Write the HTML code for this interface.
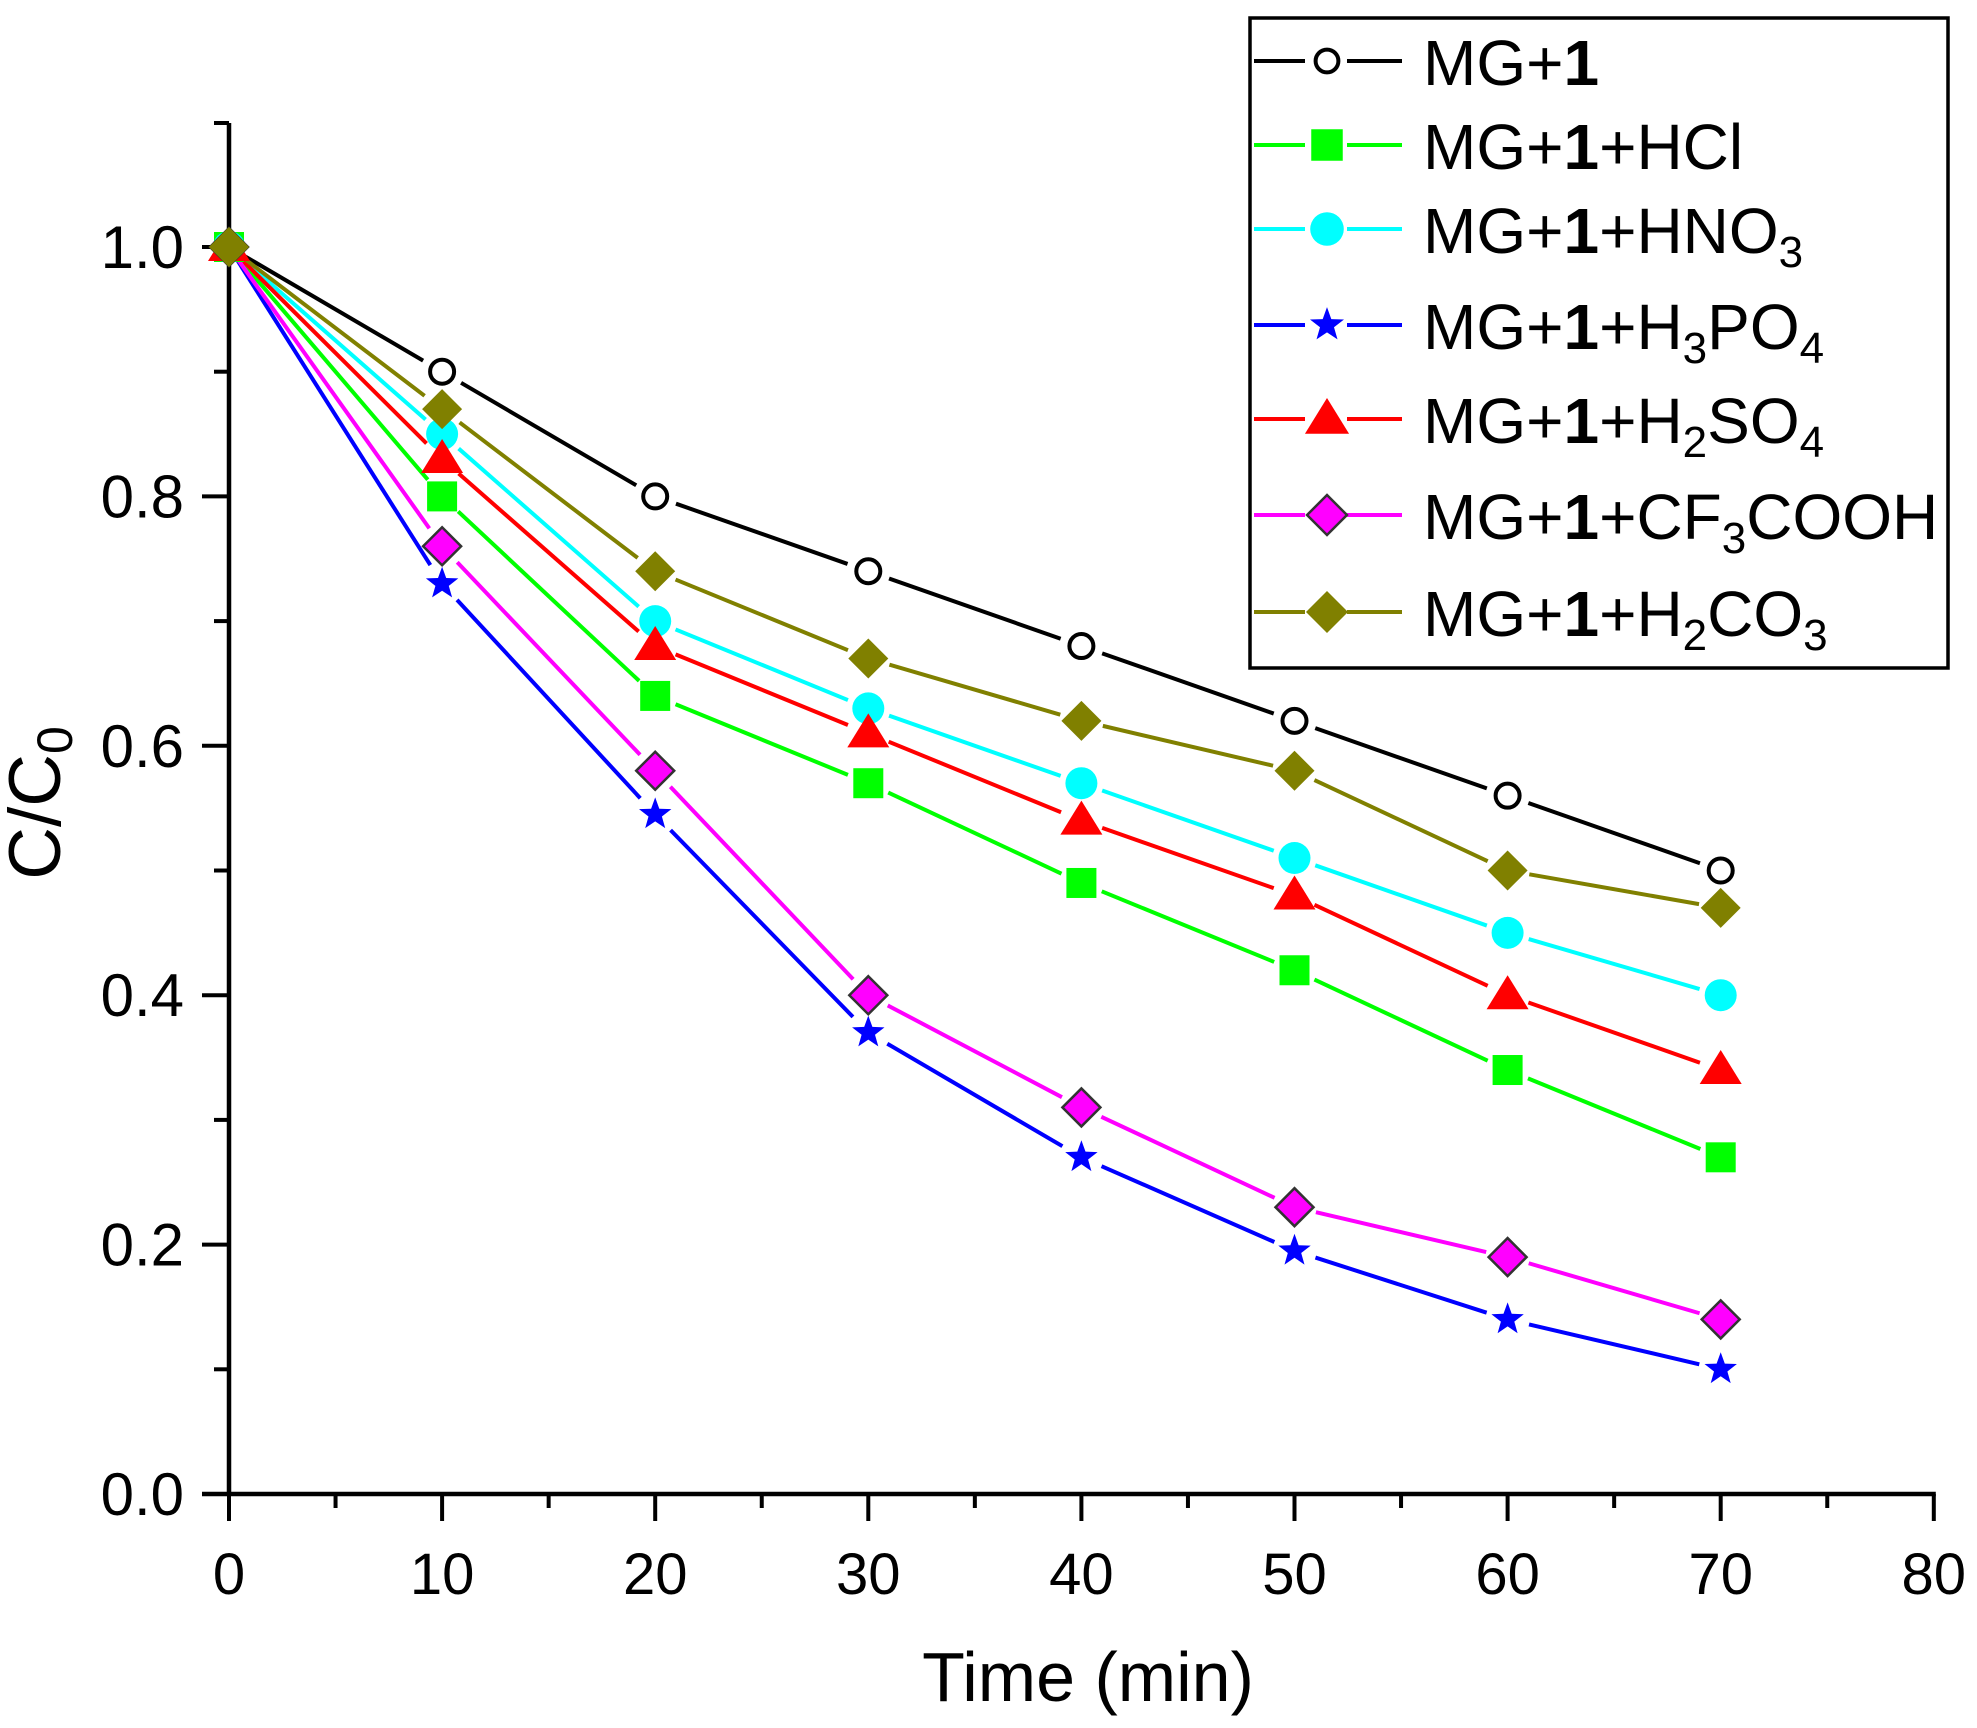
<!DOCTYPE html>
<html><head><meta charset="utf-8"><style>
html,body{margin:0;padding:0;background:#fff;}
svg{display:block;font-family:"Liberation Sans",sans-serif;}
</style></head><body>
<svg id="s" width="1977" height="1728" xmlns="http://www.w3.org/2000/svg">
<rect width="1977" height="1728" fill="#fff"/>
<g id="plot"></g>
<rect x="1250" y="18" width="698" height="650" fill="#fff" stroke="#000" stroke-width="3.5"/>
<g id="leg"></g>
<g font-size="64" fill="#000">
<text x="1423" y="85">MG+<tspan font-weight="bold">1</tspan></text>
<text x="1423" y="169">MG+<tspan font-weight="bold">1</tspan>+HCl</text>
<text x="1423" y="253">MG+<tspan font-weight="bold">1</tspan>+HNO<tspan font-size="44" dy="14">3</tspan></text>
<text x="1423" y="349">MG+<tspan font-weight="bold">1</tspan>+H<tspan font-size="44" dy="14">3</tspan><tspan dy="-14">PO</tspan><tspan font-size="44" dy="14">4</tspan></text>
<text x="1423" y="443">MG+<tspan font-weight="bold">1</tspan>+H<tspan font-size="44" dy="14">2</tspan><tspan dy="-14">SO</tspan><tspan font-size="44" dy="14">4</tspan></text>
<text x="1423" y="539">MG+<tspan font-weight="bold">1</tspan>+CF<tspan font-size="44" dy="14">3</tspan><tspan dy="-14">COOH</tspan></text>
<text x="1423" y="636">MG+<tspan font-weight="bold">1</tspan>+H<tspan font-size="44" dy="14">2</tspan><tspan dy="-14">CO</tspan><tspan font-size="44" dy="14">3</tspan></text>
</g>
<text x="1088" y="1701" font-size="70" text-anchor="middle">Time (min)</text>
<text transform="translate(60,803) rotate(-90)" font-size="73" text-anchor="middle">C/C<tspan font-size="50" dy="12">0</tspan></text>
</svg>
<script>
var NS="http://www.w3.org/2000/svg";
var plot=document.getElementById("plot"),leg=document.getElementById("leg");
function X(t){return 229+t*21.31;}
function Y(v){return 1494-v*1247;}
function el(p,n,a){var e=document.createElementNS(NS,n);for(var k in a)e.setAttribute(k,a[k]);p.appendChild(e);return e;}
function txt(p,x,y,s,anchor,size){var e=el(p,"text",{x:x,y:y,"font-size":size,"text-anchor":anchor});e.textContent=s;}
el(plot,"line",{x1:229,y1:123,x2:229,y2:1496,stroke:"#000","stroke-width":4.5});
el(plot,"line",{x1:202,y1:1494,x2:X(80)+2,y2:1494,stroke:"#000","stroke-width":4.5});
el(plot,"line",{x1:214,y1:123,x2:229,y2:123,stroke:"#000","stroke-width":4});
for(var i=0;i<=10;i++){var v=i/10,y=Y(v);var maj=i%2==0;
 el(plot,"line",{x1:maj?202:214,y1:y,x2:229,y2:y,stroke:"#000","stroke-width":4});
 if(maj)txt(plot,184,y+21,v.toFixed(1),"end",60);}
for(var t=0;t<=80;t+=5){var x=X(t),maj=t%10==0;
 el(plot,"line",{x1:x,y1:1494,x2:x,y2:maj?1521:1508,stroke:"#000","stroke-width":4});
 if(maj)txt(plot,x,1594,""+t,"middle",58);}
var T=[0,10,20,30,40,50,60,70];
var S=[
 {c:"#000",m:"oc",d:[1,.9,.8,.74,.68,.62,.56,.50]},
 {c:"#00ff00",m:"sq",d:[1,.80,.64,.57,.49,.42,.34,.27]},
 {c:"#00ffff",m:"ci",d:[1,.85,.70,.63,.57,.51,.45,.40]},
 {c:"#0000ff",m:"st",d:[1,.73,.545,.37,.27,.195,.14,.10]},
 {c:"#ff0000",m:"tr",d:[1,.83,.68,.61,.54,.48,.40,.34]},
 {c:"#ff00ff",m:"di",d:[1,.76,.58,.40,.31,.23,.19,.14]},
 {c:"#808000",m:"dk",d:[1,.87,.74,.67,.62,.58,.50,.47]}];
function marker(p,m,x,y,c,sc){sc=sc||1;
 if(m=="oc")el(p,"circle",{cx:x,cy:y,r:12*sc,fill:"#fff",stroke:"#000","stroke-width":4});
 if(m=="sq")el(p,"rect",{x:x-15*sc,y:y-15*sc,width:30*sc,height:30*sc,fill:c});
 if(m=="ci")el(p,"circle",{cx:x,cy:y,r:16*sc,fill:c});
 if(m=="tr"){var r=20*sc;el(p,"polygon",{points:(x)+","+(y-r)+" "+(x+r*1.05)+","+(y+r*0.7)+" "+(x-r*1.05)+","+(y+r*0.7),fill:c});}
 if(m=="di"){var r=19*sc;el(p,"polygon",{points:x+","+(y-r)+" "+(x+r)+","+y+" "+x+","+(y+r)+" "+(x-r)+","+y,fill:c,stroke:"#333","stroke-width":2.5});}
 if(m=="dk"){var r=20*sc;el(p,"polygon",{points:x+","+(y-r)+" "+(x+r)+","+y+" "+x+","+(y+r)+" "+(x-r)+","+y,fill:c});}
 if(m=="st"){var pts=[],R=17*sc,r2=7*sc;for(var k=0;k<10;k++){var a=-Math.PI/2+k*Math.PI/5,rr=k%2?r2:R;pts.push((x+rr*Math.cos(a)).toFixed(1)+","+(y+rr*Math.sin(a)).toFixed(1));}
  el(p,"polygon",{points:pts.join(" "),fill:c});}
}
S.forEach(function(s){
 for(var i=0;i<7;i++){var x1=X(T[i]),y1=Y(s.d[i]),x2=X(T[i+1]),y2=Y(s.d[i+1]);
  var dx=x2-x1,dy=y2-y1,L=Math.sqrt(dx*dx+dy*dy),g=22;var g0=i==0?6:g;
  el(plot,"line",{x1:x1+dx*g0/L,y1:y1+dy*g0/L,x2:x2-dx*g/L,y2:y2-dy*g/L,stroke:s.c,"stroke-width":4});}
});
S.forEach(function(s){for(var i=0;i<8;i++)marker(plot,s.m,X(T[i]),Y(s.d[i]),s.c);});
var LY=[61,145,229,325,419,515,612];
S.forEach(function(s,i){var y=LY[i];
 el(leg,"line",{x1:1254,y1:y,x2:1305,y2:y,stroke:s.c,"stroke-width":4});
 el(leg,"line",{x1:1347,y1:y,x2:1402,y2:y,stroke:s.c,"stroke-width":4});
 marker(leg,s.m,1327,y,s.c,s.m=="oc"?0.95:1.05);});
</script>
</body></html>
